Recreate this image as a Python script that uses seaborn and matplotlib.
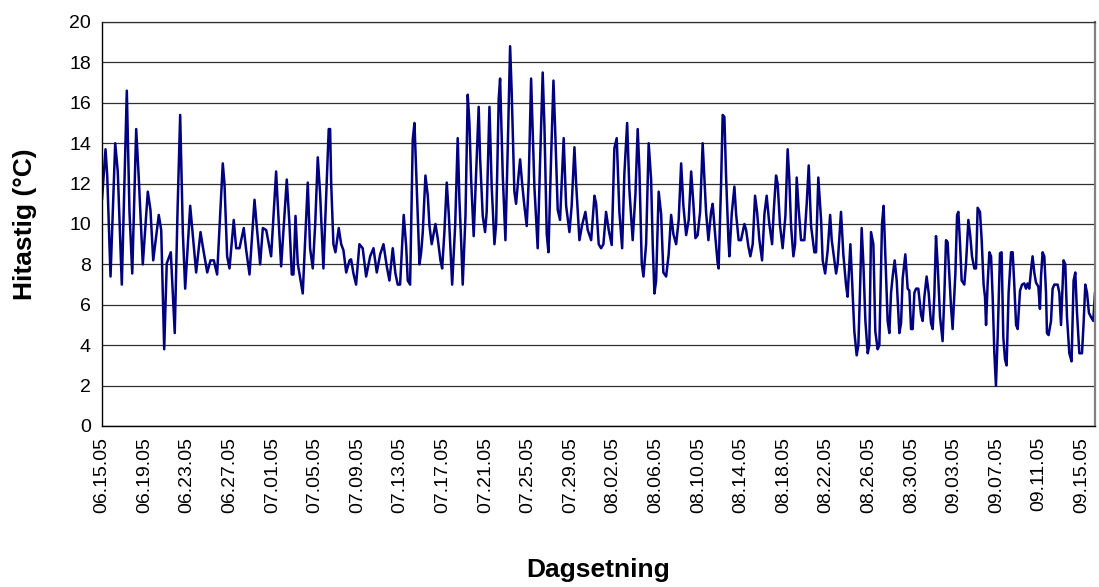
import matplotlib
matplotlib.use("Agg")
import matplotlib.pyplot as plt
from matplotlib.ticker import MultipleLocator
import seaborn as sns
import pandas as pd

# (day offset from 06.15.05, temperature in deg C)
jun_readings = [
    (0.00, 11.2), (0.33, 13.7), (0.49, 12.4), (0.80, 7.4), (1.24, 14.0), (1.48, 12.6),
    (1.86, 7.0), (2.33, 16.6), (2.58, 10.6), (2.84, 7.55), (3.21, 14.7), (3.45, 12.3),
    (3.83, 8.0), (4.30, 11.6), (4.55, 10.7), (4.81, 8.2), (5.33, 10.45), (5.56, 9.7),
    (5.84, 3.8), (6.08, 8.05), (6.46, 8.6), (6.83, 4.6), (7.09, 10.6), (7.34, 15.4),
    (7.59, 9.6), (7.81, 6.8), (8.28, 10.9), (8.84, 7.6), (9.25, 9.6), (9.46, 8.9),
    (9.88, 7.6), (10.19, 8.2), (10.50, 8.2), (10.81, 7.5), (11.34, 13.0), (11.50, 12.0),
    (11.75, 8.4), (11.97, 7.8), (12.37, 10.2), (12.60, 8.8), (12.91, 8.8), (13.31, 9.8),
    (13.54, 8.7), (13.85, 7.5), (14.32, 11.2), (14.53, 9.9), (14.85, 8.0), (15.10, 9.8),
    (15.42, 9.7), (15.88, 8.4),
]
jul_readings = [
    (16.35, 12.6), (16.50, 11.0), (16.82, 7.9), (17.35, 12.2), (17.60, 10.0), (17.82, 7.5),
    (17.98, 7.5), (18.17, 10.4), (18.38, 8.05), (18.85, 6.56), (19.01, 8.4), (19.32, 12.05),
    (19.54, 8.8), (19.79, 7.8), (20.02, 10.0), (20.26, 13.3), (20.48, 11.5), (20.79, 7.8),
    (21.05, 11.4), (21.29, 14.7), (21.42, 14.7), (21.52, 12.0), (21.73, 9.0), (21.92, 8.6),
    (22.23, 9.8), (22.46, 9.0), (22.67, 8.7), (22.93, 7.6), (23.24, 8.2), (23.39, 8.25),
    (23.61, 7.55), (23.86, 7.0), (24.17, 9.0), (24.48, 8.8), (24.80, 7.4), (25.18, 8.4),
    (25.49, 8.8), (25.80, 7.6), (26.12, 8.5), (26.43, 9.0), (26.74, 7.9), (26.99, 7.2),
    (27.30, 8.8), (27.55, 7.55), (27.77, 7.0), (27.99, 7.0), (28.33, 10.45), (28.56, 8.9),
    (28.71, 7.2), (28.93, 7.0), (29.18, 14.2), (29.34, 15.0), (29.50, 12.6), (29.81, 8.0),
    (29.97, 8.6), (30.12, 9.6), (30.37, 12.4), (30.59, 11.4), (30.75, 9.9), (30.96, 9.0),
    (31.31, 10.0), (31.52, 9.3), (31.78, 8.2), (31.94, 7.8), (32.15, 9.6), (32.37, 12.05),
    (32.56, 10.5), (32.88, 7.0), (33.16, 9.9), (33.40, 14.25), (33.56, 11.2), (33.72, 9.2),
    (33.87, 7.0), (34.13, 10.4), (34.34, 16.4), (34.50, 15.0), (34.66, 12.2), (34.81, 10.4),
    (34.90, 9.4), (35.13, 12.6), (35.37, 15.8), (35.50, 13.3), (35.75, 10.4), (35.97, 9.6),
    (36.12, 10.6), (36.38, 15.8), (36.59, 11.85), (36.85, 9.0), (37.01, 10.0), (37.25, 16.2),
    (37.38, 17.2), (37.63, 12.4), (37.88, 9.2), (38.10, 13.8), (38.32, 18.8), (38.47, 16.5),
    (38.72, 11.6), (38.88, 11.0), (39.13, 12.5), (39.26, 13.2), (39.45, 12.0), (39.66, 10.9),
    (39.88, 9.9), (40.07, 12.2), (40.29, 17.2), (40.60, 11.85), (40.91, 8.8), (41.14, 13.2),
    (41.38, 17.5), (41.54, 14.9), (41.76, 9.5), (41.92, 8.6), (42.17, 13.3), (42.39, 17.1),
    (42.55, 14.7), (42.79, 10.7), (43.01, 10.2), (43.35, 14.25), (43.58, 10.9), (43.89, 9.6),
    (44.10, 10.9), (44.36, 13.8), (44.52, 12.0), (44.83, 9.2), (45.08, 9.95), (45.39, 10.6),
    (45.61, 9.7), (45.93, 9.2), (46.24, 11.4), (46.40, 11.0), (46.64, 9.0), (46.86, 8.8),
]
aug_readings = [
    (47.08, 9.0), (47.33, 10.6), (47.58, 9.7), (47.86, 8.96), (48.11, 13.75), (48.33, 14.25),
    (48.58, 10.6), (48.84, 8.8), (49.05, 12.5), (49.31, 15.0), (49.52, 11.7), (49.83, 9.2),
    (50.09, 11.5), (50.30, 14.7), (50.46, 12.7), (50.68, 8.05), (50.84, 7.4), (51.09, 9.0),
    (51.33, 14.0), (51.56, 12.2), (51.71, 9.0), (51.87, 6.56), (52.03, 7.2), (52.27, 11.6),
    (52.50, 10.5), (52.71, 7.6), (52.97, 7.4), (53.21, 8.5), (53.44, 10.45), (53.65, 9.5),
    (53.91, 9.0), (54.15, 10.2), (54.38, 13.0), (54.59, 10.9), (54.85, 9.45), (55.09, 10.2),
    (55.32, 12.6), (55.53, 11.0), (55.72, 9.3), (55.93, 9.45), (56.16, 10.6), (56.40, 14.0),
    (56.56, 12.35), (56.72, 10.6), (56.94, 9.2), (57.19, 10.6), (57.34, 11.0), (57.60, 9.3),
    (57.81, 8.05), (57.90, 7.8), (58.13, 12.0), (58.28, 15.4), (58.44, 15.3), (58.60, 12.35),
    (58.82, 9.2), (58.91, 8.4), (59.13, 10.5), (59.38, 11.85), (59.54, 10.5), (59.78, 9.2),
    (60.00, 9.2), (60.32, 10.0), (60.48, 9.7), (60.69, 8.9), (60.88, 8.4), (61.10, 9.0),
    (61.32, 11.4), (61.51, 10.6), (61.73, 9.2), (61.98, 8.2), (62.20, 10.5), (62.41, 11.4),
    (62.66, 10.0), (62.92, 9.0), (63.07, 10.6), (63.29, 12.4), (63.44, 12.0), (63.67, 9.9),
    (63.91, 8.8), (64.17, 10.4), (64.38, 13.7), (64.54, 12.2), (64.70, 9.9), (64.92, 8.4),
    (65.08, 9.0), (65.23, 12.3), (65.42, 10.7), (65.64, 9.2), (65.95, 9.2), (66.17, 11.0),
    (66.36, 12.9), (66.58, 9.9), (66.89, 8.6), (67.05, 8.6), (67.26, 12.3), (67.52, 10.2),
    (67.67, 8.2), (67.90, 7.55), (68.14, 8.7), (68.37, 10.45), (68.52, 9.2), (68.77, 8.2),
    (68.93, 7.55), (69.08, 8.05), (69.39, 10.6), (69.61, 8.5), (69.86, 7.0), (70.01, 6.4),
    (70.27, 9.0), (70.43, 7.2), (70.64, 4.7), (70.86, 3.5), (71.02, 4.0), (71.18, 6.8),
    (71.33, 9.8), (71.49, 8.05), (71.68, 5.2), (71.90, 3.6), (72.05, 4.0), (72.21, 9.6),
    (72.43, 9.0), (72.61, 4.7), (72.83, 3.8), (72.99, 4.0), (73.24, 10.0), (73.39, 10.9),
    (73.53, 8.8), (73.77, 5.2), (73.93, 4.6), (74.09, 6.6), (74.24, 7.4), (74.43, 8.2),
    (74.62, 7.2), (74.87, 4.6), (75.03, 5.1), (75.18, 7.3), (75.43, 8.5), (75.65, 6.8),
    (75.81, 6.7), (75.97, 4.8), (76.12, 4.8), (76.28, 6.6), (76.44, 6.8), (76.65, 6.8),
    (76.91, 5.5), (77.06, 5.2), (77.22, 6.4), (77.43, 7.4), (77.62, 6.6), (77.84, 5.1),
]
sep_readings = [
    (78.00, 4.8), (78.15, 6.4), (78.31, 9.4), (78.46, 8.05), (78.69, 5.4), (78.93, 4.2),
    (79.09, 6.4), (79.25, 9.2), (79.40, 9.1), (79.72, 5.9), (79.87, 4.8), (80.13, 7.55),
    (80.29, 10.45), (80.41, 10.6), (80.57, 9.0), (80.72, 7.2), (80.97, 7.0), (81.13, 8.05),
    (81.35, 10.2), (81.53, 9.4), (81.69, 8.4), (81.91, 7.8), (82.07, 7.8), (82.22, 10.8),
    (82.44, 10.6), (82.60, 9.2), (82.78, 7.0), (82.91, 6.4), (83.01, 5.0), (83.16, 7.06),
    (83.32, 8.6), (83.48, 8.4), (83.63, 6.4), (83.79, 3.6), (83.94, 2.0), (84.10, 4.4),
    (84.32, 8.55), (84.47, 8.6), (84.63, 4.4), (84.79, 3.3), (84.94, 3.0), (85.13, 6.6),
    (85.36, 8.6), (85.51, 8.6), (85.67, 6.9), (85.83, 5.0), (85.98, 4.8), (86.20, 6.7),
    (86.39, 7.0), (86.60, 7.06), (86.76, 6.8), (86.91, 7.06), (87.07, 6.8), (87.23, 7.7),
    (87.38, 8.4), (87.54, 7.6), (87.70, 7.1), (87.92, 6.9), (88.07, 5.8), (88.17, 7.4),
    (88.32, 8.6), (88.48, 8.4), (88.64, 6.6), (88.73, 4.6), (88.88, 4.5), (89.11, 5.2),
    (89.26, 6.8), (89.42, 7.0), (89.73, 7.0), (89.89, 6.6), (90.05, 5.0), (90.29, 8.2),
    (90.45, 8.0), (90.61, 5.4), (90.83, 3.6), (91.04, 3.2), (91.23, 7.2), (91.39, 7.6),
    (91.55, 5.6), (91.77, 3.6), (92.02, 3.6), (92.17, 5.1), (92.33, 7.0), (92.49, 6.6),
    (92.67, 5.6), (92.86, 5.4), (93.08, 5.2), (93.24, 6.6),
]

tick_days = [0, 4, 8, 12, 16, 20, 24, 28, 32, 36, 40, 44, 48, 52, 56, 60, 64, 68, 72,
             76, 80, 84, 88, 92]
tick_labels = ["06.15.05", "06.19.05", "06.23.05", "06.27.05", "07.01.05", "07.05.05",
               "07.09.05", "07.13.05", "07.17.05", "07.21.05", "07.25.05", "07.29.05",
               "08.02.05", "08.06.05", "08.10.05", "08.14.05", "08.18.05", "08.22.05",
               "08.26.05", "08.30.05", "09.03.05", "09.07.05", "09.11.05", "09.15.05"]
y_ticks = [0, 2, 4, 6, 8, 10, 12, 14, 16, 18, 20]

readings = jun_readings + jul_readings + aug_readings + sep_readings
df = pd.DataFrame(readings, columns=["day", "temp"])

sns.set_style("white")
plt.rcParams["font.family"] = ["Liberation Sans", "DejaVu Sans"]
plt.rcParams["text.color"] = "black"
plt.rcParams["axes.labelcolor"] = "black"
plt.rcParams["xtick.color"] = "black"
plt.rcParams["ytick.color"] = "black"

fig = plt.figure(figsize=(10.99, 5.87), dpi=100)
ax = fig.add_axes([102 / 1099, 1 - 426 / 587, (1095 - 102) / 1099, (426 - 22) / 587])

sns.lineplot(data=df, x="day", y="temp", ax=ax, color="#000080", linewidth=1.8,
             estimator=None, sort=False)

ax.set_xlim(0, 93.24)
ax.set_ylim(0, 20)
ax.set_yticks(y_ticks)
ax.set_yticklabels([str(v) for v in y_ticks], fontsize=14)
ax.set_xticks(tick_days)
ax.set_xticklabels(tick_labels, rotation=90, fontsize=14)
ax.xaxis.set_minor_locator(MultipleLocator(1.25))
ax.tick_params(axis="x", which="major", length=0, pad=8, labelcolor="black")
ax.tick_params(axis="x", which="minor", length=5, width=1, color="black", direction="out")
ax.tick_params(axis="y", which="major", length=5, width=1, color="black", direction="out",
               pad=3, labelcolor="black")
ax.yaxis.grid(True, color="#303030", linewidth=0.9)
ax.xaxis.grid(False)
ax.set_axisbelow(True)

for side in ["left", "bottom"]:
    ax.spines[side].set_color("black")
    ax.spines[side].set_linewidth(1.0)
ax.spines["right"].set_color("#808080")
ax.spines["right"].set_linewidth(1.6)
ax.spines["top"].set_color("#303030")
ax.spines["top"].set_linewidth(0.9)

ax.set_xlabel("Dagsetning", fontsize=19, fontweight="bold", labelpad=32, color="black")
ax.set_ylabel("Hitastig (°C)", fontsize=19, fontweight="bold", labelpad=23, color="black")

fig.savefig("out.png", dpi=100)
